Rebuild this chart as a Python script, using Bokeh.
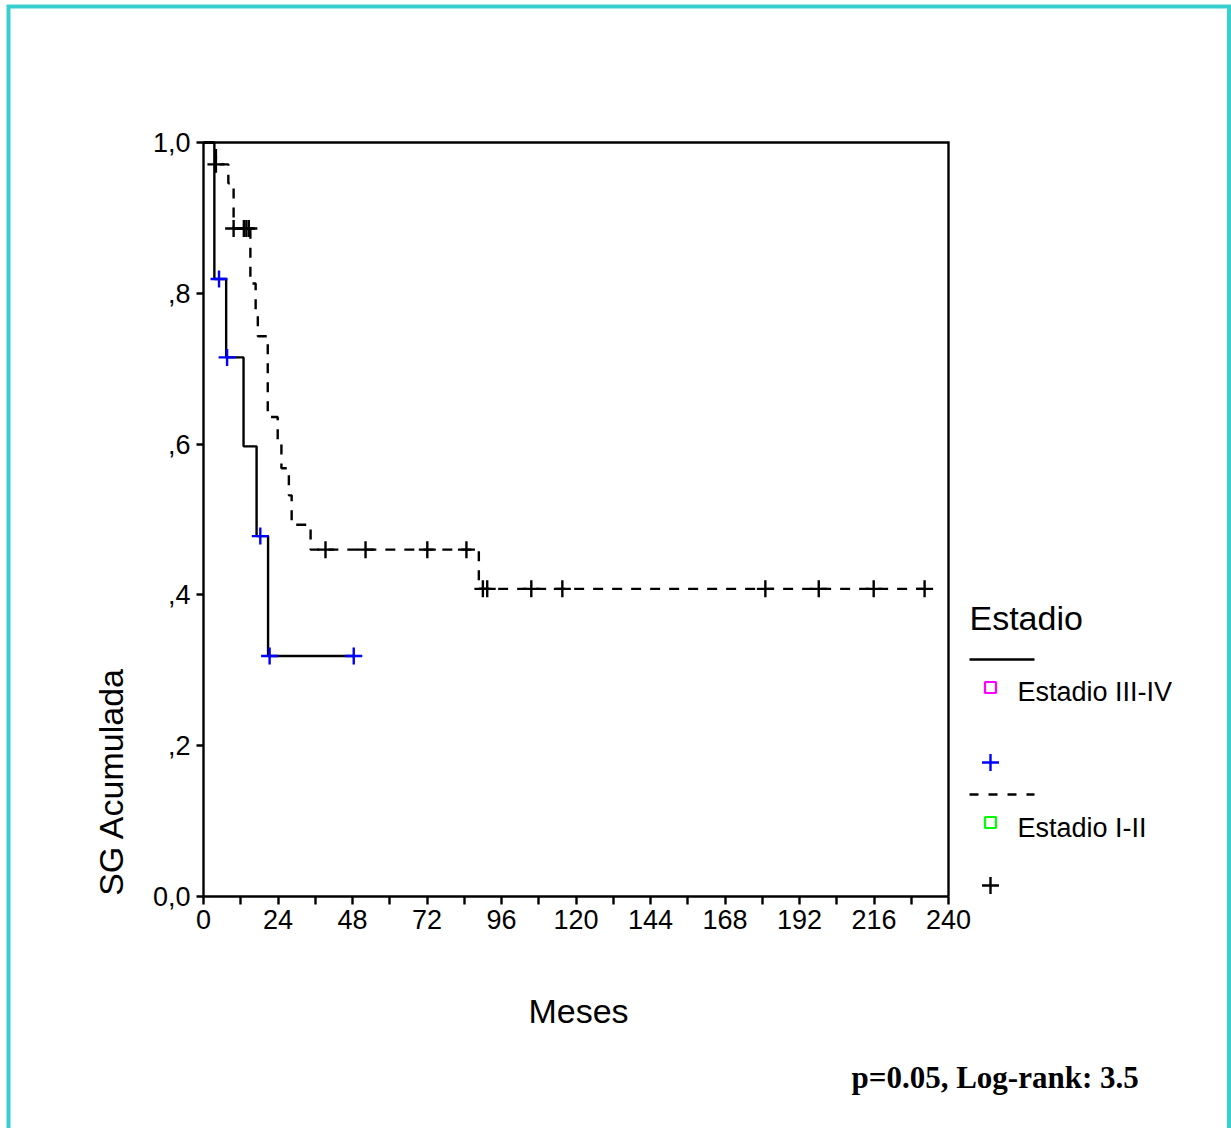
import math
from bokeh.plotting import figure
from bokeh.models import LinearAxis, FixedTicker, Range1d, CustomJSTickFormatter
from bokeh.core.properties import value
from bokeh.embed import file_html
from bokeh.resources import INLINE

# ---------------- data ----------------
# Estadio III-IV (solid line, blue censor marks)
t_34 = [0.0, 3.5, 7.3, 12.9, 17.1, 20.8, 48.4]
s_34 = [1.0, 0.819, 0.715, 0.597, 0.478, 0.319, 0.319]
cens_t_34 = [5.0, 7.6, 18.3, 21.3, 48.4]
cens_s_34 = [0.819, 0.715, 0.478, 0.319, 0.319]

# Estadio I-II (dashed line, black censor marks)
t_12 = [0.0, 4.0, 8.0, 9.7, 15.1, 16.8, 17.5, 20.7, 23.9, 25.1, 27.5, 28.4, 34.5, 88.7, 232.3]
s_12 = [1.0, 0.971, 0.946, 0.886, 0.813, 0.777, 0.743, 0.636, 0.601, 0.568, 0.532, 0.493, 0.460, 0.408, 0.408]
cens_t_12 = [4.0, 9.7, 13.0, 13.8, 14.6, 39.3, 52.2, 72.1, 84.7,
             90.0, 91.4, 105.6, 115.6, 181.0, 198.2, 215.9, 232.3]
cens_s_12 = [0.971, 0.886, 0.886, 0.886, 0.886, 0.460, 0.460, 0.460, 0.460,
             0.408, 0.408, 0.408, 0.408, 0.408, 0.408, 0.408, 0.408]

xtick_vals = [0, 24, 48, 72, 96, 120, 144, 168, 192, 216, 240]
xtick_minor = [12, 36, 60, 84, 108, 132, 156, 180, 204, 228]
ytick_vals = [0.0, 0.2, 0.4, 0.6, 0.8, 1.0]
ytick_labels = ["0,0", ",2", ",4", ",6", ",8", "1,0"]

series_names = ["Estadio III-IV", "Estadio I-II"]
legend_title = "Estadio"
x_title = "Meses"
y_title = "SG Acumulada"
note = "p=0.05, Log-rank: 3.5"

# ---------------- layout (page pixels) ----------------
W, H = 1231, 1128
OFF = 0
PX0, PX1 = 203, 948      # page x of first / last x tick
PY0, PY1 = 896, 142      # page y of first / last y tick
XMAX = xtick_vals[-1]
YMAX = ytick_vals[-1]
LW = 2.4

sx = XMAX / (PX1 - PX0)
x_start = -(PX0 - OFF) * sx
x_end = x_start + W * sx
sy = YMAX / (PY0 - PY1)
y_end = YMAX + (PY1 - OFF) * sy
y_start = y_end - H * sy


def X(px):
    return x_start + (px - OFF) * sx


def Y(py):
    return y_end - (py - OFF) * sy


p = figure(width=W, height=H, x_range=Range1d(x_start, x_end), y_range=Range1d(y_start, y_end),
           x_axis_type=None, y_axis_type=None, toolbar_location=None, output_backend="svg",
           min_border=0, title=None)
p.outline_line_color = None
p.background_fill_color = "white"
p.border_fill_color = "white"

SANS = "Liberation Sans"

yax = LinearAxis(fixed_location=0, bounds=(0, YMAX),
                 ticker=FixedTicker(ticks=ytick_vals, minor_ticks=[]),
                 formatter=CustomJSTickFormatter(args=dict(vals=ytick_vals, labs=ytick_labels), code="""
let b = 0;
for (let i = 0; i < vals.length; i++) { if (Math.abs(vals[i] - tick) < Math.abs(vals[b] - tick)) b = i; }
return labs[b];
"""))
yax.axis_line_width = LW
yax.major_tick_line_width = LW
yax.major_tick_in = 0
yax.major_tick_out = 7
yax.minor_tick_line_color = None
yax.major_label_text_font = SANS
yax.major_label_text_font_size = "27px"
yax.major_label_text_color = "black"
yax.major_label_standoff = 6
p.add_layout(yax, "left")

xax = LinearAxis(fixed_location=0, bounds=(0, XMAX),
                 ticker=FixedTicker(ticks=xtick_vals, minor_ticks=xtick_minor))
xax.axis_line_width = LW
xax.major_tick_line_width = LW
xax.major_tick_in = 0
xax.major_tick_out = 8
xax.minor_tick_line_width = LW
xax.minor_tick_in = 0
xax.minor_tick_out = 8
xax.major_label_text_font = SANS
xax.major_label_text_font_size = "27px"
xax.major_label_text_color = "black"
xax.major_label_standoff = 5
p.add_layout(xax, "below")

# frame: top and right sides of the plot box
p.line([0, XMAX, XMAX], [YMAX, YMAX, 0], line_color="black", line_width=LW, line_join="miter")

# curves
p.step(t_34, s_34, mode="after", line_color="black", line_width=LW)
p.step(t_12, s_12, mode="after", line_color="black", line_width=LW, line_dash="10 9")
p.scatter(cens_t_12, cens_s_12, marker="cross", size=17, line_color="black", line_width=LW)
p.scatter(cens_t_34, cens_s_34, marker="cross", size=17, line_color="blue", line_width=LW)

# axis titles
p.text(x=[X(110)], y=[Y(781)], text=[y_title], angle=math.pi / 2, text_align="center",
       text_baseline="middle", text_font=value(SANS), text_font_size="34px", text_color="black")
p.text(x=[X(578)], y=[Y(1010)], text=[x_title], text_align="center",
       text_baseline="middle", text_font=value(SANS), text_font_size="34px", text_color="black")

# legend (SPSS style)
p.text(x=[X(969)], y=[Y(617)], text=[legend_title], text_align="left", text_baseline="middle",
       text_font=value(SANS), text_font_size="34px", text_color="black")
p.line([X(969), X(1034)], [Y(659), Y(659)], line_color="black", line_width=LW)
p.scatter([X(990)], [Y(687)], marker="square", size=11, fill_color=None,
          line_color="#FF00FF", line_width=2.2)
p.text(x=[X(1017)], y=[Y(691)], text=[series_names[0]], text_align="left", text_baseline="middle",
       text_font=value(SANS), text_font_size="27px", text_color="black")
p.scatter([X(990)], [Y(762)], marker="cross", size=17, line_color="blue", line_width=LW)
p.line([X(969), X(1034)], [Y(794), Y(794)], line_color="black", line_width=LW, line_dash="9 10")
p.scatter([X(990)], [Y(822)], marker="square", size=11, fill_color=None,
          line_color="#00FF00", line_width=2.2)
p.text(x=[X(1017)], y=[Y(827)], text=[series_names[1]], text_align="left", text_baseline="middle",
       text_font=value(SANS), text_font_size="27px", text_color="black")
p.scatter([X(990)], [Y(885)], marker="cross", size=17, line_color="black", line_width=LW)

# statistics note
p.text(x=[X(851)], y=[Y(1077)], text=[note], text_align="left", text_baseline="middle",
       text_font=value("Liberation Serif"), text_font_style="bold", text_font_size="31px",
       text_color="black")

# teal page border
p.line([X(8), X(8), X(1228.5), X(1228.5)], [Y(1150), Y(6), Y(6), Y(1150)],
       line_color="#3ACFCF", line_width=4, line_join="miter")

open("out.html", "w").write(file_html(p, INLINE))
